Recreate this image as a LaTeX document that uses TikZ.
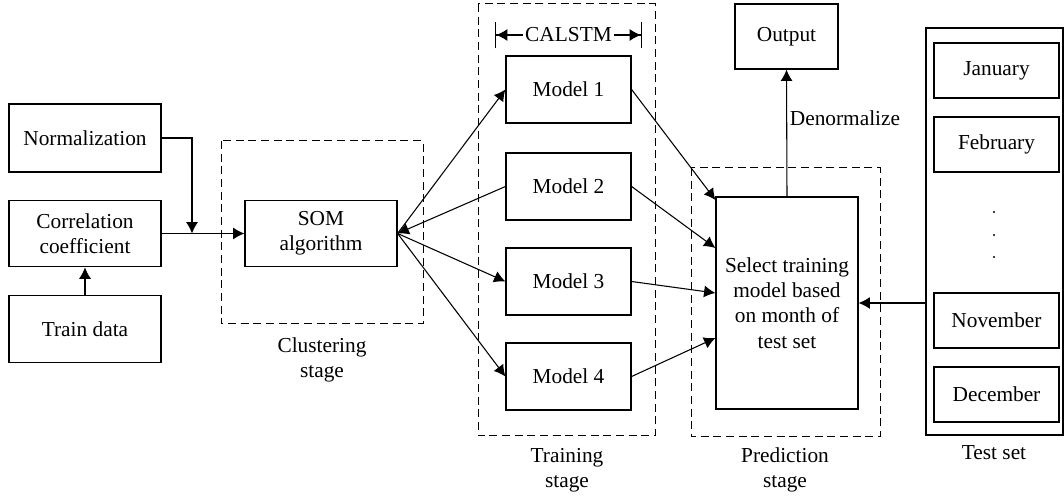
\documentclass[tikz,border=0pt]{standalone}
\usepackage{fontspec}
\setmainfont{Liberation Serif}
\usepackage{tikz}
\usetikzlibrary{arrows.meta,calc}

\begin{document}
\begin{tikzpicture}[
        x=0.75pt, y=-0.75pt,
        font=\fontsize{16}{19}\selectfont,
        box/.style={draw,line width=0.9pt,align=center,inner sep=2pt,
            minimum width=#1},
        box/.default=114pt,
        stage/.style={draw,line width=0.75pt,dash pattern=on 6pt off 3.5pt},
        arr/.style={-{Latex[length=8.5pt,width=9pt]}},
        caption/.style={align=center},
        every path/.append style={line width=0.8pt}
    ]
        \useasboundingbox (0,0) rectangle (1064,498);

        % stage frames
        \draw [stage] (221,141) rectangle (423,324);
        \draw [stage] (478,4) rectangle (655,436);
        \draw [stage] (691,168) rectangle (880,437);

        % input side
        \node [box, minimum height=51pt] (norm)  at (85,138)   {Normalization};
        \node [box, minimum height=50pt] (corr)  at (85,233.5) {Correlation\\coefficient};
        \node [box, minimum height=50pt] (train) at (85,329)   {Train data};
        \node [box, minimum height=50pt] (som)   at (321,233.5) {SOM\\algorithm};

        \coordinate (join) at (192,233.5);
        \draw [arr] (norm.east) -| (join);
        \draw [arr] (corr.east) -- (som.west);
        \draw [arr] (train.north) -- (corr.south);

        % training models
        \node [box=93.75pt, minimum height=50.25pt] (m1) at (568.5,89.5)  {Model 1};
        \node [box=93.75pt, minimum height=50.25pt] (m2) at (568.5,186.5) {Model 2};
        \node [box=93.75pt, minimum height=50.25pt] (m3) at (568.5,281.5) {Model 3};
        \node [box=93.75pt, minimum height=50.25pt] (m4) at (568.5,376.5) {Model 4};

        \coordinate (calL) at (495,35);
        \coordinate (calR) at (642,35);
        \draw [{Bar[width=20pt]Latex[length=8.5pt,width=9pt]}-{Latex[length=8.5pt,width=9pt]Bar[width=20pt]}]
            (calL) -- node[fill=white,inner sep=2pt]{CALSTM} (calR);

        \draw [arr] (som.east) -- (m1.west);
        \draw [arr] (m2.west) -- (som.east);
        \draw [arr] (som.east) -- (m3.west);
        \draw [arr] (som.east) -- (m4.west);

        % prediction
        \node [box=106.5pt, minimum height=159pt] (sel) at (787,303)
            {Select training\\model based\\on month of\\test set};
        \node [box=77.25pt, minimum height=48.75pt] (out) at (786.5,36.5) {Output};

        \draw [arr] (m1.east) -- ($(sel.west)+(0,-103)$);
        \draw [arr] (m2.east) -- ($(sel.west)+(0,-55)$);
        \draw [arr] (m3.east) -- ($(sel.west)+(0,-10)$);
        \draw [arr] (m4.east) -- ($(sel.west)+(0,35)$);
        \draw [arr] (sel.north) -- node[pos=0.62,right,inner sep=2pt]{Denormalize} (out.south);

        % test set
        \node [draw,line width=0.9pt,minimum width=102.75pt,minimum height=305.25pt] (tset) at (994.5,231.5) {};
        \node [box=93.75pt, minimum height=41.25pt] (jan) at (996.5,70.5)  {January};
        \node [box=93.75pt, minimum height=41.25pt] (feb) at (996.5,144.5) {February};
        \node [box=93.75pt, minimum height=41.25pt] (nov) at (996.5,320.5) {November};
        \node [box=93.75pt, minimum height=41.25pt] (dec) at (996.5,394.5) {December};
        \foreach \y in {212,235,257}
            \fill (994,\y) circle[radius=0.9pt];

        \draw [arr] (tset.west |- sel.east) -- (sel.east);

        % captions
        \node [caption] (cclu) at (322,360) {Clustering\\stage};
        \node [caption] (ctra) at (567,470) {Training\\stage};
        \node [caption] (cpre) at (785,470) {Prediction\\stage};
        \node [caption] (ctes) at (994,453) {Test set};
    \end{tikzpicture}
\end{document}
